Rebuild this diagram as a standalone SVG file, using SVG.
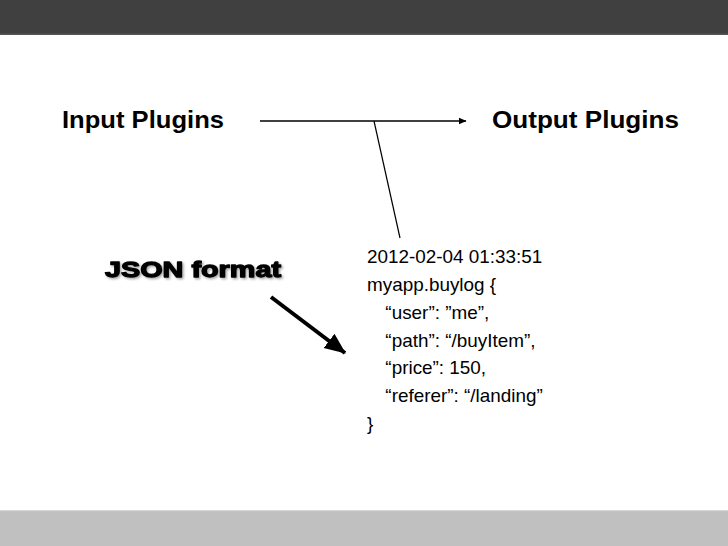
<svg xmlns="http://www.w3.org/2000/svg" width="728" height="546" viewBox="0 0 728 546">
<style>
.title{font-family:"Liberation Sans",Arial,sans-serif;font-weight:bold;font-size:24px;fill:#000}
.code{font-family:"Liberation Sans",Arial,sans-serif;font-size:18px;fill:#000}
.json{font-family:"Liberation Sans",Arial,sans-serif;font-weight:bold;font-size:22.5px;fill:#000;stroke:#000;stroke-width:1.3px;stroke-linejoin:round}
.conn{stroke:#000;fill:none}
</style>
<defs>
<marker id="head" markerWidth="8" markerHeight="8" refX="7" refY="4" orient="auto" markerUnits="userSpaceOnUse">
<path d="M0,0.8 L7.5,4 L0,7.2 Z" fill="#000"/>
</marker>
<marker id="bighead" markerWidth="24" markerHeight="20" refX="20" refY="10" orient="auto" markerUnits="userSpaceOnUse">
<path d="M0,1 L21,10 L0,19 Z" fill="#000"/>
</marker>
<filter id="shadow" x="-10%" y="-30%" width="130%" height="180%">
<feDropShadow dx="1.5" dy="1.5" stdDeviation="1.2" flood-color="#000" flood-opacity="0.35"/>
</filter>
</defs>
<rect width="728" height="546" fill="#fff"/>
<rect x="0" y="0" width="728" height="34" fill="#404040"/>
<rect x="0" y="33.5" width="728" height="1.5" fill="#555"/>
<rect x="0" y="510" width="728" height="36" fill="#c0c0c0"/>
<rect x="0" y="510" width="728" height="1.2" fill="#d6d6d6"/>

<g id="input-plugins">
<text class="title" x="62" y="128" textLength="162" lengthAdjust="spacingAndGlyphs">Input Plugins</text>
</g>
<g id="output-plugins">
<text class="title" x="492" y="128" textLength="187" lengthAdjust="spacingAndGlyphs">Output Plugins</text>
</g>
<g id="json-format">
<text class="json" x="105" y="277" textLength="176" lengthAdjust="spacingAndGlyphs" filter="url(#shadow)">JSON format</text>
</g>
<g id="log-record">
<g transform="translate(367,0) scale(1.05,1)">
<text class="code" x="0" y="263">2012-02-04 01:33:51</text>
<text class="code" x="0" y="291">myapp.buylog {</text>
<text class="code" x="17.5" y="319">“user”: ”me”,</text>
<text class="code" x="17.5" y="347">“path”: “/buyItem”,</text>
<text class="code" x="17.5" y="374">“price”: 150,</text>
<text class="code" x="17.5" y="402">“referer”: “/landing”</text>
<text class="code" x="0" y="430">}</text>
</g>
</g>

<g id="connectors">
<line class="conn" x1="260" y1="121" x2="466" y2="121" stroke-width="1.5" marker-end="url(#head)"/>
<line class="conn" x1="374" y1="121" x2="400" y2="238" stroke-width="1.2"/>
<line class="conn" x1="271" y1="297" x2="345" y2="353" stroke-width="4" marker-end="url(#bighead)"/>
</g>
</svg>
